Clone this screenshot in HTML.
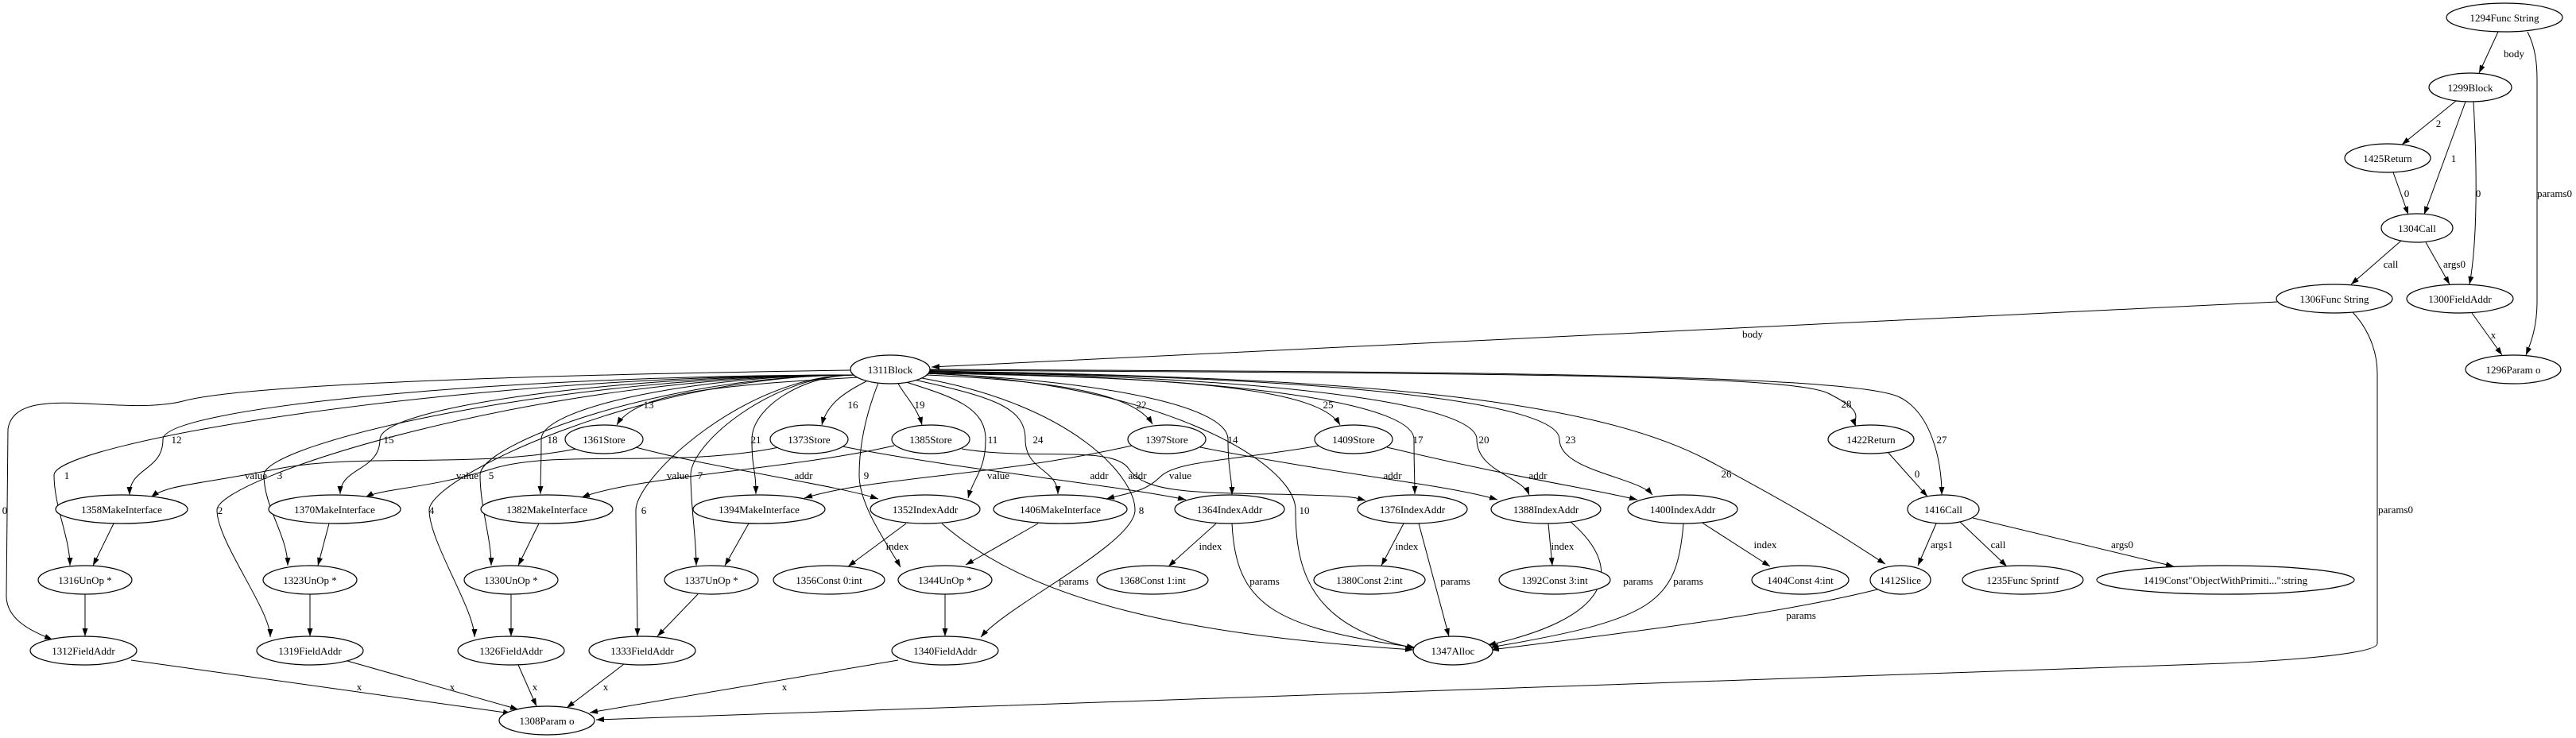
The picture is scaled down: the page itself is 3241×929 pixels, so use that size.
<!DOCTYPE html>
<html><head><meta charset="utf-8"><style>
html,body{margin:0;padding:0;background:#fff;}
svg{display:block;}
text{font-family:"Liberation Serif",serif;font-size:13px;fill:#000;}
.n text{text-anchor:middle;}
.l{text-anchor:middle;}
ellipse{fill:#fff;stroke:#000;stroke-width:1.2;}
path.e{fill:none;stroke:#000;stroke-width:1;marker-end:url(#a);}
</style></head><body>
<svg width="3241" height="929" viewBox="0 0 3241 929" xmlns="http://www.w3.org/2000/svg">
<defs><marker id="a" markerUnits="userSpaceOnUse" markerWidth="11" markerHeight="8" refX="10" refY="3.5" orient="auto"><path d="M0,0 L10,3.5 L0,7 z" fill="#000"/></marker></defs>
<rect width="3241" height="929" fill="#fff"/>
<path class="e" d="M1071,466 C800,470 320,480 230,505 C150,525 20,480 10,540 L8,750 C8,780 40,795 66,805"/>
<path class="e" d="M1075,472 C571,472 68,558 68,598 S88,677 88,712"/>
<path class="e" d="M1075,472 C640,472 205,513 205,553 S163,588 163,623"/>
<path class="e" d="M1075,472 C674,472 273,602 273,642 S340,767 340,802"/>
<path class="e" d="M1075,472 C703,472 332,558 332,598 S362,675 362,712"/>
<path class="e" d="M1075,472 C776,472 478,513 478,553 S428,588 428,622"/>
<path class="e" d="M1075,472 C807,472 540,602 540,642 S597,767 597,802"/>
<path class="e" d="M1075,472 C839,472 604,558 604,598 S618,677 618,712"/>
<path class="e" d="M1075,472 C878,472 681,513 681,553 S680,588 680,622"/>
<path class="e" d="M1080,475 C900,485 800,495 776,535"/>
<path class="e" d="M1075,472 C937,472 800,602 800,642 S802,766 802,801"/>
<path class="e" d="M1075,472 C1010,472 946,513 946,553 S951,588 951,622"/>
<path class="e" d="M1075,472 C972,472 869,558 869,598 S876,677 876,712"/>
<path class="e" d="M1090,480 C1060,495 1040,510 1034,535"/>
<path class="e" d="M1105,482 C1090,520 1081,558 1081,598 S1120,690 1133,714"/>
<path class="e" d="M1130,483 C1140,500 1155,515 1160,535"/>
<path class="e" d="M1140,481 C1200,500 1240,513 1240,553 S1225,600 1218,627"/>
<path class="e" d="M1150,478 C1250,500 1290,513 1290,553 S1331,590 1331,622"/>
<path class="e" d="M1160,476 C1350,510 1428,600 1428,642 S1270,760 1234,802"/>
<path class="e" d="M1165,472 C1350,480 1430,500 1450,534"/>
<path class="e" d="M1165,470 C1400,480 1545,513 1545,553 S1550,600 1550,623"/>
<path class="e" d="M1165,470 C1450,480 1630,580 1630,642 C1630,720 1650,790 1780,816"/>
<path class="e" d="M1168,470 C1500,475 1660,490 1686,535"/>
<path class="e" d="M1168,469 C1600,475 1779,513 1779,553 S1780,600 1780,622"/>
<path class="e" d="M1168,468 C1650,475 1858,513 1858,553 S1915,600 1924,623"/>
<path class="e" d="M1168,468 C1750,475 1962,513 1962,553 S2060,600 2079,623"/>
<path class="e" d="M1169,467 C1700,475 2000,500 2150,580 S2340,690 2372,710"/>
<path class="e" d="M1169,466 C1800,470 2250,470 2300,495 S2330,525 2335,537"/>
<path class="e" d="M1169,465 C1800,468 2330,470 2390,500 C2430,520 2443,580 2443,623"/>
<path class="e" d="M725,565 C600,590 450,570 350,590 S210,610 190,626"/>
<path class="e" d="M800,563 C900,590 1050,610 1105,628"/>
<path class="e" d="M980,563 C850,590 700,565 620,590 S480,615 460,626"/>
<path class="e" d="M1060,562 C1200,590 1400,610 1492,629"/>
<path class="e" d="M1125,561 C1000,590 800,600 732,626"/>
<path class="e" d="M1210,565 C1300,580 1400,560 1420,590 C1440,620 1500,620 1600,622 S1700,625 1718,630"/>
<path class="e" d="M1424,561 C1250,600 1100,600 1012,627"/>
<path class="e" d="M1510,563 C1700,600 1820,610 1884,629"/>
<path class="e" d="M1660,561 C1550,580 1480,580 1460,600 S1420,620 1392,628"/>
<path class="e" d="M1745,563 C1900,600 2000,615 2060,629"/>
<path class="e" d="M143,659 L117,712"/>
<path class="e" d="M414,659 L400,712"/>
<path class="e" d="M678,659 L652,712"/>
<path class="e" d="M942,659 L912,712"/>
<path class="e" d="M1306,659 L1215,711"/>
<path class="e" d="M107,748 L107,801"/>
<path class="e" d="M390,748 L390,801"/>
<path class="e" d="M643,748 L643,801"/>
<path class="e" d="M878,748 L827,801"/>
<path class="e" d="M1189,748 L1189,801"/>
<path class="e" d="M165,831 L643,898"/>
<path class="e" d="M437,832 L652,893"/>
<path class="e" d="M652,837 L675,889"/>
<path class="e" d="M785,836 L713,891"/>
<path class="e" d="M1130,831 L742,897"/>
<path class="e" d="M2960,393 C2985,420 2991,450 2991,470 L2991,810 C2991,822 2900,830 2800,835 L750,906"/>
<path class="e" d="M1140,659 L1067,713"/>
<path class="e" d="M1530,659 L1470,713"/>
<path class="e" d="M1766,659 L1738,712"/>
<path class="e" d="M1948,659 L1953,712"/>
<path class="e" d="M2140,657 L2227,713"/>
<path class="e" d="M1185,659 C1300,760 1500,800 1778,818"/>
<path class="e" d="M1550,659 C1555,760 1600,790 1780,815"/>
<path class="e" d="M1785,659 L1823,801"/>
<path class="e" d="M1975,656 C2050,720 2020,780 1872,812"/>
<path class="e" d="M2118,659 C2110,760 2080,780 1875,815"/>
<path class="e" d="M2362,742 C2250,770 2100,790 1876,818"/>
<path class="e" d="M2436,659 L2413,712"/>
<path class="e" d="M2465,656 L2525,713"/>
<path class="e" d="M2482,652 L2735,713"/>
<path class="e" d="M2375,569 L2425,625"/>
<path class="e" d="M2865,380 L1172,462"/>
<path class="e" d="M3143,40 L3119,92"/>
<path class="e" d="M3180,40 C3190,60 3192,80 3192,100 L3192,380 C3192,410 3185,430 3178,447"/>
<path class="e" d="M3090,127 L3022,182"/>
<path class="e" d="M3102,128 L3050,270"/>
<path class="e" d="M3112,128 C3116,200 3118,300 3107,358"/>
<path class="e" d="M3011,217 L3030,270"/>
<path class="e" d="M3021,303 L2958,358"/>
<path class="e" d="M3052,305 L3082,358"/>
<path class="e" d="M3110,394 L3148,447"/>
<g class="l">
<text x="6" y="647" class="l">0</text><text x="84" y="603" class="l">1</text><text x="222" y="558" class="l">12</text>
<text x="277" y="647" class="l">2</text><text x="352" y="603" class="l">3</text><text x="489" y="558" class="l">15</text>
<text x="543" y="647" class="l">4</text><text x="618" y="603" class="l">5</text><text x="695" y="558" class="l">18</text>
<text x="816" y="514" class="l">13</text><text x="810" y="647" class="l">6</text><text x="951" y="558" class="l">21</text>
<text x="881" y="603" class="l">7</text><text x="1073" y="514" class="l">16</text><text x="1090" y="603" class="l">9</text>
<text x="1157" y="514" class="l">19</text><text x="1249" y="558" class="l">11</text><text x="1306" y="558" class="l">24</text>
<text x="1436" y="647" class="l">8</text><text x="1436" y="514" class="l">22</text><text x="1551" y="558" class="l">14</text>
<text x="1641" y="647" class="l">10</text><text x="1671" y="514" class="l">25</text><text x="1784" y="558" class="l">17</text>
<text x="1867" y="558" class="l">20</text><text x="1976" y="558" class="l">23</text><text x="2172" y="601" class="l">26</text>
<text x="2323" y="513" class="l">28</text><text x="2443" y="558" class="l">27</text>
<text x="322" y="603" class="l">value</text><text x="588" y="603" class="l">value</text><text x="853" y="603" class="l">value</text>
<text x="1256" y="603" class="l">value</text><text x="1485" y="603" class="l">value</text>
<text x="1011" y="603" class="l">addr</text><text x="1383" y="603" class="l">addr</text><text x="1431" y="603" class="l">addr</text>
<text x="1752" y="603" class="l">addr</text><text x="1935" y="603" class="l">addr</text>
<text x="452" y="869" class="l">x</text><text x="569" y="869" class="l">x</text><text x="673" y="869" class="l">x</text>
<text x="762" y="869" class="l">x</text><text x="987" y="869" class="l">x</text>
<text x="1129" y="692" class="l">index</text><text x="1523" y="692" class="l">index</text><text x="1770" y="692" class="l">index</text>
<text x="1966" y="692" class="l">index</text><text x="2221" y="690" class="l">index</text>
<text x="1351" y="736" class="l">params</text><text x="1591" y="736" class="l">params</text><text x="1831" y="736" class="l">params</text>
<text x="2061" y="736" class="l">params</text><text x="2124" y="736" class="l">params</text><text x="2266" y="779" class="l">params</text>
<text x="2443" y="690" class="l">args1</text><text x="2514" y="690" class="l">call</text><text x="2670" y="690" class="l">args0</text>
<text x="2412" y="601" class="l">0</text><text x="2205" y="425" class="l">body</text><text x="3014" y="646" class="l">params0</text>
<text x="3163" y="72" class="l">body</text><text x="3214" y="248" class="l">params0</text><text x="3068" y="160" class="l">2</text>
<text x="3087" y="204" class="l">1</text><text x="3118" y="248" class="l">0</text><text x="3028" y="248" class="l">0</text>
<text x="3008" y="337" class="l">call</text><text x="3088" y="337" class="l">args0</text><text x="3137" y="426" class="l">x</text>
</g>
<g class="n">
<ellipse cx="3151" cy="22" rx="73" ry="18"/><text x="3151" y="27">1294Func String</text>
<ellipse cx="3108" cy="110" rx="52" ry="18"/><text x="3108" y="115">1299Block</text>
<ellipse cx="3004" cy="199" rx="54" ry="18"/><text x="3004" y="204">1425Return</text>
<ellipse cx="3041" cy="287" rx="45" ry="18"/><text x="3041" y="292">1304Call</text>
<ellipse cx="2937" cy="376" rx="73" ry="18"/><text x="2937" y="381">1306Func String</text>
<ellipse cx="3095" cy="376" rx="67" ry="18"/><text x="3095" y="381">1300FieldAddr</text>
<ellipse cx="3162" cy="465" rx="60" ry="18"/><text x="3162" y="470">1296Param o</text>
<ellipse cx="1120" cy="465" rx="50" ry="18"/><text x="1120" y="470">1311Block</text>
<ellipse cx="760" cy="553" rx="49" ry="18"/><text x="760" y="558">1361Store</text>
<ellipse cx="1018" cy="553" rx="49" ry="18"/><text x="1018" y="558">1373Store</text>
<ellipse cx="1171" cy="553" rx="49" ry="18"/><text x="1171" y="558">1385Store</text>
<ellipse cx="1468" cy="553" rx="49" ry="18"/><text x="1468" y="558">1397Store</text>
<ellipse cx="1703" cy="553" rx="49" ry="18"/><text x="1703" y="558">1409Store</text>
<ellipse cx="2354" cy="553" rx="54" ry="18"/><text x="2354" y="558">1422Return</text>
<ellipse cx="153" cy="641" rx="83" ry="18"/><text x="153" y="646">1358MakeInterface</text>
<ellipse cx="421" cy="641" rx="83" ry="18"/><text x="421" y="646">1370MakeInterface</text>
<ellipse cx="688" cy="641" rx="83" ry="18"/><text x="688" y="646">1382MakeInterface</text>
<ellipse cx="955" cy="641" rx="83" ry="18"/><text x="955" y="646">1394MakeInterface</text>
<ellipse cx="1164" cy="641" rx="69" ry="18"/><text x="1164" y="646">1352IndexAddr</text>
<ellipse cx="1334" cy="641" rx="84" ry="18"/><text x="1334" y="646">1406MakeInterface</text>
<ellipse cx="1547" cy="641" rx="69" ry="18"/><text x="1547" y="646">1364IndexAddr</text>
<ellipse cx="1777" cy="641" rx="69" ry="18"/><text x="1777" y="646">1376IndexAddr</text>
<ellipse cx="1945" cy="641" rx="69" ry="18"/><text x="1945" y="646">1388IndexAddr</text>
<ellipse cx="2117" cy="641" rx="69" ry="18"/><text x="2117" y="646">1400IndexAddr</text>
<ellipse cx="2445" cy="641" rx="45" ry="18"/><text x="2445" y="646">1416Call</text>
<ellipse cx="107" cy="730" rx="59" ry="18"/><text x="107" y="735">1316UnOp *</text>
<ellipse cx="390" cy="730" rx="59" ry="18"/><text x="390" y="735">1323UnOp *</text>
<ellipse cx="643" cy="730" rx="59" ry="18"/><text x="643" y="735">1330UnOp *</text>
<ellipse cx="895" cy="730" rx="59" ry="18"/><text x="895" y="735">1337UnOp *</text>
<ellipse cx="1043" cy="730" rx="70" ry="18"/><text x="1043" y="735">1356Const 0:int</text>
<ellipse cx="1189" cy="730" rx="59" ry="18"/><text x="1189" y="735">1344UnOp *</text>
<ellipse cx="1450" cy="730" rx="70" ry="18"/><text x="1450" y="735">1368Const 1:int</text>
<ellipse cx="1723" cy="730" rx="70" ry="18"/><text x="1723" y="735">1380Const 2:int</text>
<ellipse cx="1956" cy="730" rx="70" ry="18"/><text x="1956" y="735">1392Const 3:int</text>
<ellipse cx="2265" cy="730" rx="61" ry="18"/><text x="2265" y="735">1404Const 4:int</text>
<ellipse cx="2391" cy="730" rx="38" ry="18"/><text x="2391" y="735">1412Slice</text>
<ellipse cx="2545" cy="730" rx="76" ry="18"/><text x="2545" y="735">1235Func Sprintf</text>
<ellipse cx="2800" cy="730" rx="162" ry="18"/><text x="2800" y="735">1419Const"ObjectWithPrimiti...":string</text>
<ellipse cx="105" cy="819" rx="67" ry="18"/><text x="105" y="824">1312FieldAddr</text>
<ellipse cx="390" cy="819" rx="67" ry="18"/><text x="390" y="824">1319FieldAddr</text>
<ellipse cx="643" cy="819" rx="67" ry="18"/><text x="643" y="824">1326FieldAddr</text>
<ellipse cx="808" cy="819" rx="67" ry="18"/><text x="808" y="824">1333FieldAddr</text>
<ellipse cx="1189" cy="819" rx="67" ry="18"/><text x="1189" y="824">1340FieldAddr</text>
<ellipse cx="1828" cy="819" rx="50" ry="18"/><text x="1828" y="824">1347Alloc</text>
<ellipse cx="688" cy="907" rx="60" ry="18"/><text x="688" y="912">1308Param o</text>
</g>
</svg>
</body></html>
